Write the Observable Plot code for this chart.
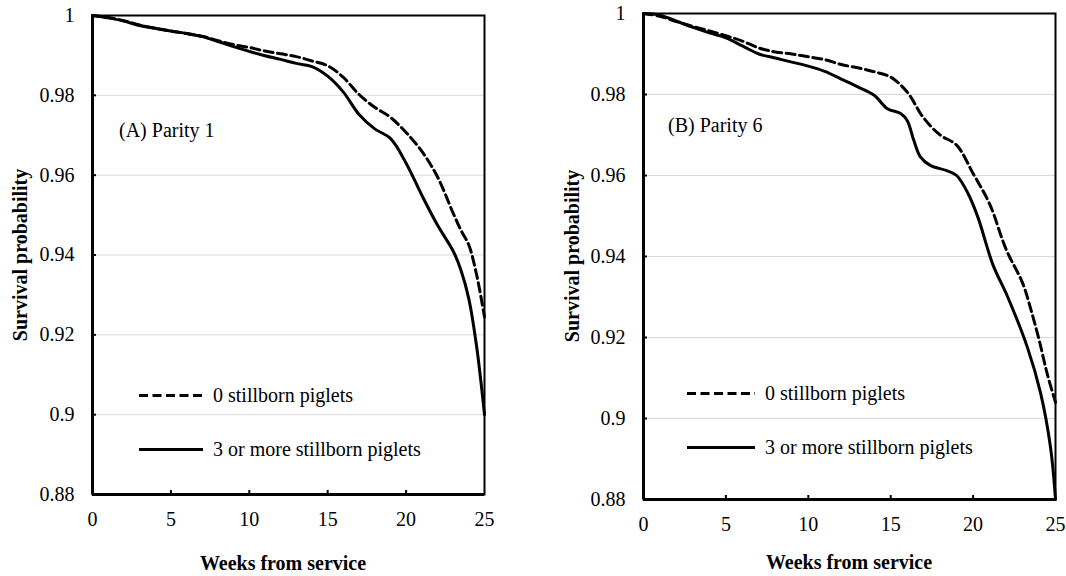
<!DOCTYPE html>
<html>
<head>
<meta charset="utf-8">
<script src="https://cdn.jsdelivr.net/npm/d3@7"></script>
<script src="https://cdn.jsdelivr.net/npm/@observablehq/plot@0.6"></script>
<style>
  html, body { margin: 0; padding: 0; background: #fff; }
  #wrap { position: relative; width: 1066px; height: 576px; font-family: "Liberation Serif", Tinos, "DejaVu Serif", serif; color: #000; }
  #wrap svg { position: absolute; top: 0; }
  .t { position: absolute; white-space: nowrap; font-size: 20px; line-height: 1; transform: translateY(-50%); }
  .ytitle { position: absolute; white-space: nowrap; font-size: 20px; font-weight: bold; line-height: 1; transform: translate(-50%, -50%) rotate(-90deg); }
  .xtitle { position: absolute; white-space: nowrap; font-size: 20px; font-weight: bold; line-height: 1; transform: translate(-50%, -50%); }
  .leg { position: absolute; height: 0; border-top-width: 3px; border-top-color: #000; }
</style>
</head>
<body>
<div id="wrap"></div>
<script>
// ---------- data ----------
const xTicks = [0, 5, 10, 15, 20, 25];
const xTickLabels = ["0", "5", "10", "15", "20", "25"];
const yTicks = [0.88, 0.9, 0.92, 0.94, 0.96, 0.98, 1];
const yTickLabels = ["0.88", "0.9", "0.92", "0.94", "0.96", "0.98", "1"];

const seriesNames = ["0 stillborn piglets", "3 or more stillborn piglets"];
const panelLabels = ["(A) Parity 1", "(B) Parity 6"];
const xTitle = "Weeks from service";
const yTitle = "Survival probability";

// Panel A (Parity 1)
const weeksA0 = [0, 1, 2, 3, 4, 5, 6, 7, 8, 9, 10, 11, 12, 13, 14, 15, 16, 17, 18, 19, 20, 21, 22, 23, 23.5, 24, 24.5, 25];
const survA0  = [1, 0.9995, 0.9987, 0.9976, 0.9968, 0.9961, 0.9955, 0.9948, 0.9937, 0.9927, 0.9920, 0.9911, 0.9904, 0.9897, 0.9886, 0.9874, 0.9845, 0.9802, 0.9770, 0.9745, 0.9707, 0.9660, 0.9596, 0.9505, 0.9462, 0.9425, 0.9350, 0.9245];
const weeksA3 = [0, 1, 2, 3, 4, 5, 6, 7, 8, 9, 10, 11, 12, 13, 14, 15, 16, 17, 18, 19, 20, 21, 22, 23, 23.5, 24, 24.5, 25];
const survA3  = [1, 0.9994, 0.9986, 0.9975, 0.9968, 0.9961, 0.9955, 0.9947, 0.9935, 0.9922, 0.9910, 0.9899, 0.9890, 0.9880, 0.9872, 0.9848, 0.9808, 0.9752, 0.9716, 0.9692, 0.9630, 0.9550, 0.9475, 0.9410, 0.9362, 0.9290, 0.9170, 0.9000];

// Panel B (Parity 6)
const weeksB0 = [0, 1, 2, 3, 4, 5, 6, 7, 8, 9, 10, 11, 12, 13, 14, 15, 16, 17, 18, 19, 20, 21, 22, 23, 23.5, 24, 24.5, 25];
const survB0  = [1, 0.9993, 0.9980, 0.9968, 0.9957, 0.9945, 0.9932, 0.9915, 0.9905, 0.9900, 0.9893, 0.9886, 0.9874, 0.9866, 0.9856, 0.9843, 0.9806, 0.9742, 0.9700, 0.9675, 0.9605, 0.9530, 0.9418, 0.9335, 0.9270, 0.9195, 0.9110, 0.9040];
const weeksB3 = [0, 1, 2, 3, 4, 5, 6, 7, 8, 9, 10, 11, 12, 13, 14, 14.8, 15.6, 16, 16.4, 16.8, 17.4, 18.4, 19, 19.7, 20.3, 21.2, 22.1, 23.3, 24.1, 24.7, 25];
const survB3  = [1, 0.9996, 0.9981, 0.9966, 0.9952, 0.9940, 0.9920, 0.9900, 0.9890, 0.9880, 0.9870, 0.9857, 0.9838, 0.9819, 0.9798, 0.9765, 0.9753, 0.9736, 0.9687, 0.9646, 0.9625, 0.9612, 0.9600, 0.9555, 0.9496, 0.9380, 0.9300, 0.9175, 0.9062, 0.8928, 0.8800];

const toRows = (weeks, surv) => weeks.map((w, i) => ({week: w, surv: surv[i]}));

// ---------- drawing ----------
const FONT = '"Liberation Serif", Tinos, "DejaVu Serif", serif';
const wrap = document.getElementById("wrap");
const DASH = "9,4.5";

function panel(cfg) {
  const plotW = cfg.width - cfg.ml - cfg.mr;
  const plotH = cfg.height - cfg.mt - cfg.mb;
  const svg = Plot.plot({
    width: cfg.width,
    height: cfg.height,
    marginLeft: cfg.ml,
    marginRight: cfg.mr,
    marginTop: cfg.mt,
    marginBottom: cfg.mb,
    style: {fontFamily: FONT, fontSize: "20px", color: "#000", background: "transparent", overflow: "visible"},
    x: {domain: [xTicks[0], xTicks[xTicks.length - 1]]},
    y: {domain: [yTicks[0], yTicks[yTicks.length - 1]]},
    marks: [
      Plot.gridY(yTicks, {stroke: "#d9d9d9", strokeOpacity: 1, strokeWidth: 1}),
      Plot.axisY(yTicks, {tickSize: 0, tickPadding: 18, label: null, fontSize: 20,
        tickFormat: d => yTickLabels[yTicks.indexOf(d)]}),
      Plot.axisX(xTicks, {tickSize: 0, tickPadding: 17, label: null, fontSize: 20,
        tickFormat: d => xTickLabels[xTicks.indexOf(d)]}),
      Plot.tickX(xTicks.slice(1, -1), {x: d => d, insetTop: plotH - 4, stroke: "#000", strokeWidth: 2}),
      Plot.tickY(yTicks.slice(1, -1), {y: d => d, insetRight: plotW - 4, stroke: "#000", strokeWidth: 2}),
      Plot.line(cfg.s0, {x: "week", y: "surv", stroke: "#000", strokeWidth: 3, strokeDasharray: DASH, curve: "catmull-rom"}),
      Plot.line(cfg.s3, {x: "week", y: "surv", stroke: "#000", strokeWidth: 3, curve: "catmull-rom"}),
      Plot.frame({stroke: "#000", strokeWidth: 2}),
      Plot.ruleX([xTicks[0]], {stroke: "#000", strokeWidth: 3}),
      Plot.ruleY([yTicks[0]], {stroke: "#000", strokeWidth: 3})
    ]
  });
  svg.style.left = cfg.left + "px";
  svg.style.fontFamily = FONT;
  wrap.appendChild(svg);

  const add = (txt, cls, x, y) => {
    const d = document.createElement("div");
    d.className = cls;
    d.textContent = txt;
    d.style.left = x + "px";
    d.style.top = y + "px";
    d.style.fontFamily = FONT;
    wrap.appendChild(d);
    return d;
  };
  // panel label
  add(cfg.label, "t", cfg.labelX, cfg.labelY);
  // legend
  const l0 = document.createElement("div");
  l0.className = "leg";
  Object.assign(l0.style, {left: cfg.legX + "px", top: (cfg.legY0 - 1.5) + "px", width: cfg.legW + "px", borderTopStyle: "none"});
  l0.innerHTML = `<svg width="${cfg.legW}" height="4" style="position:absolute;left:0;top:0;overflow:visible"><line x1="0" y1="1.5" x2="${cfg.legW}" y2="1.5" stroke="#000" stroke-width="3" stroke-dasharray="${DASH}"/></svg>`;
  wrap.appendChild(l0);
  add(seriesNames[0], "t", cfg.legX + cfg.legW + 10, cfg.legY0);
  const l3 = document.createElement("div");
  l3.className = "leg";
  Object.assign(l3.style, {left: cfg.legX + "px", top: (cfg.legY3 - 1.5) + "px", width: cfg.legW + "px", borderTopStyle: "solid"});
  wrap.appendChild(l3);
  add(seriesNames[1], "t", cfg.legX + cfg.legW + 10, cfg.legY3);
  // axis titles
  add(yTitle, "ytitle", cfg.yTitleX, (cfg.mt + cfg.height - cfg.mb) / 2);
  add(xTitle, "xtitle", cfg.xTitleX, cfg.xTitleY);
}

panel({
  left: 0, width: 530, height: 576, ml: 92, mr: 46, mt: 15, mb: 82,
  s0: toRows(weeksA0, survA0), s3: toRows(weeksA3, survA3),
  label: panelLabels[0], labelX: 119, labelY: 130,
  legX: 139, legW: 64, legY0: 395, legY3: 449,
  yTitleX: 20, xTitleX: 283, xTitleY: 563
});
panel({
  left: 530, width: 536, height: 576, ml: 113, mr: 11, mt: 13, mb: 77,
  s0: toRows(weeksB0, survB0), s3: toRows(weeksB3, survB3),
  label: panelLabels[1], labelX: 668, labelY: 125,
  legX: 687, legW: 68, legY0: 393, legY3: 447,
  yTitleX: 572, xTitleX: 849, xTitleY: 562
});
</script>
</body>
</html>
